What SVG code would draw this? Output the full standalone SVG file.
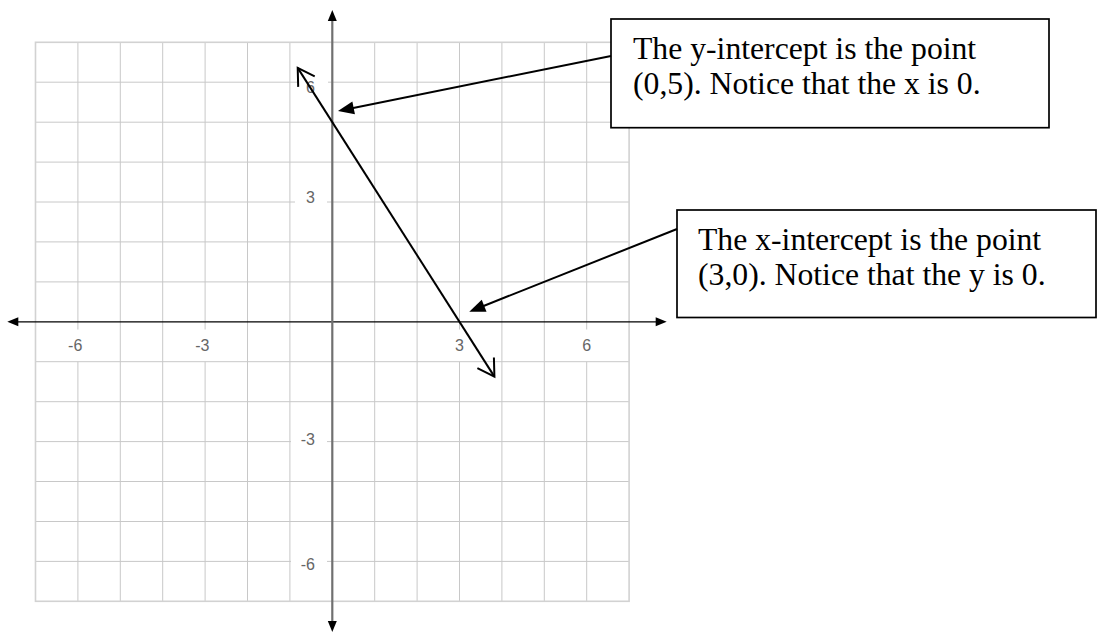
<svg xmlns="http://www.w3.org/2000/svg" width="1102" height="632" viewBox="0 0 1102 632">
<style>
.grid{fill:none;stroke:#c8c8c8;stroke-width:1}
.border{fill:none;stroke:#d2d2d2;stroke-width:1.6}
.tick{font-family:"Liberation Sans",Arial,sans-serif;font-size:16px;fill:#666}
.box{fill:#fff;stroke:#000;stroke-width:1.7}
.note{font-family:"Liberation Serif","Times New Roman",serif;font-size:31.7px;fill:#000}
.conn{fill:none;stroke:#000;stroke-width:2}
</style>
<defs>
<marker id="axisHead" markerUnits="userSpaceOnUse" markerWidth="20" markerHeight="20" refX="0" refY="0" orient="auto-start-reverse" overflow="visible">
<path d="M5.5,0 L-5.5,-4.5 L-5.5,4.5 Z" fill="#000"/>
</marker>
<marker id="openHead" markerUnits="userSpaceOnUse" markerWidth="30" markerHeight="30" refX="0" refY="0" orient="auto-start-reverse" overflow="visible">
<path d="M-16.3,-9.8 L0,0 L-16.3,9.8" fill="none" stroke="#000" stroke-width="2"/>
</marker>
<marker id="solidHead" markerUnits="userSpaceOnUse" markerWidth="30" markerHeight="30" refX="0" refY="0" orient="auto" overflow="visible">
<path d="M8,0 L-8,-6.5 L-8,6.5 Z" fill="#000"/>
</marker>
</defs>
<rect width="1102" height="632" fill="#fff"/>
<g id="grid">
<path class="grid" d="M77.9,42.3V329.5M77.9,361.7V601.3 M120.3,42.3V601.3 M162.7,42.3V601.3 M205.1,42.3V329.5M205.1,361.7V601.3 M247.5,42.3V601.3 M289.9,42.3V601.3 M374.7,42.3V601.3 M417.1,42.3V601.3 M459.5,42.3V329.5M459.5,361.7V601.3 M501.9,42.3V601.3 M544.3,42.3V601.3 M586.7,42.3V329.5M586.7,361.7V601.3"/>
<path class="grid" d="M35.5,82.2H297M328,82.2H629.1 M35.5,122.2H629.1 M35.5,162.1H629.1 M35.5,202H295M327,202H629.1 M35.5,241.9H629.1 M35.5,281.9H629.1 M35.5,361.7H629.1 M35.5,401.7H629.1 M35.5,441.6H291M327,441.6H629.1 M35.5,481.5H629.1 M35.5,521.5H629.1 M35.5,561.4H291M327,561.4H629.1"/>
<rect class="border" x="35.5" y="42.3" width="593.6" height="559"/>
</g>
<g id="tick-labels">
<text class="tick" x="82.3" y="351" text-anchor="end">-6</text>
<text class="tick" x="209.5" y="351" text-anchor="end">-3</text>
<text class="tick" x="459.5" y="351" text-anchor="middle">3</text>
<text class="tick" x="586.7" y="351" text-anchor="middle">6</text>
<text class="tick" x="315" y="93" text-anchor="end">6</text>
<text class="tick" x="315" y="202.7" text-anchor="end">3</text>
<text class="tick" x="315" y="444.5" text-anchor="end">-3</text>
<text class="tick" x="315" y="570" text-anchor="end">-6</text>
</g>
<g id="axes">
<line id="x-axis" x1="12.8" y1="321.8" x2="661.2" y2="321.8" stroke="#000" stroke-width="1.3" marker-start="url(#axisHead)" marker-end="url(#axisHead)"/>
<line id="y-axis" x1="332.3" y1="15.5" x2="332.3" y2="626.5" stroke="#707070" stroke-width="2.2" marker-start="url(#axisHead)" marker-end="url(#axisHead)"/>
</g>
<g id="graph-line">
<line x1="297.7" y1="67.85" x2="494.4" y2="376.6" stroke="#000" stroke-width="2" marker-start="url(#openHead)" marker-end="url(#openHead)"/>
</g>
<g id="callout-y">
<rect class="box" x="611" y="19" width="438" height="108.7"/>
<text class="note" x="633" y="59.3">The y-intercept is the point</text>
<text class="note" x="633" y="94.3">(0,5). Notice that the x is 0.</text>
</g>
<g id="callout-x">
<rect class="box" x="677" y="210" width="419" height="107.5"/>
<text class="note" x="698" y="250">The x-intercept is the point</text>
<text class="note" x="698" y="285">(3,0). Notice that the y is 0.</text>
</g>
<g id="connectors">
<line class="conn" x1="611" y1="56" x2="345.8" y2="109.4" marker-end="url(#solidHead)"/>
<line class="conn" x1="677" y1="229" x2="476.7" y2="308.7" marker-end="url(#solidHead)"/>
</g>
</svg>
